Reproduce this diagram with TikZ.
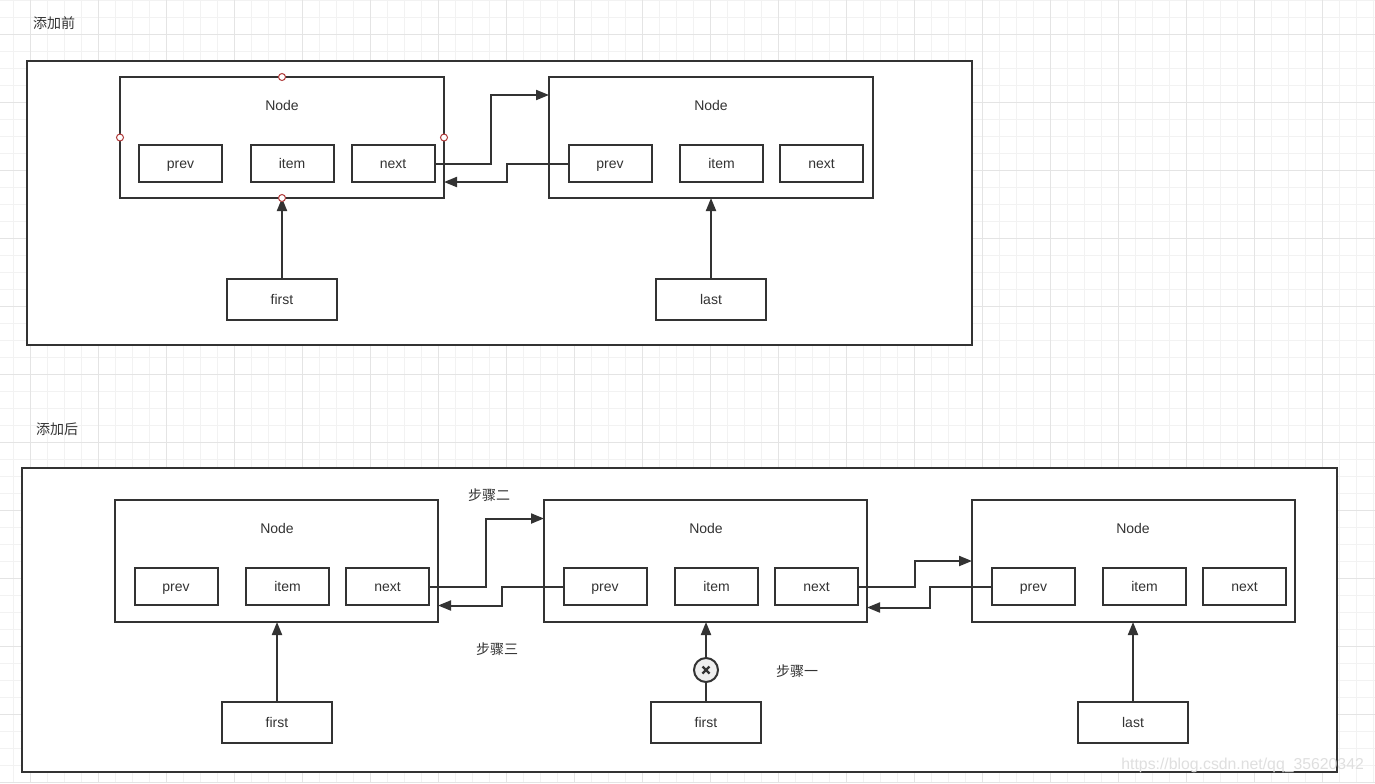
\documentclass[tikz,border=0pt]{standalone}
\usepackage{fontspec}
\setmainfont{Liberation Sans}
\newfontfamily\cjk{Noto Sans CJK SC}
\usetikzlibrary{arrows.meta,calc}
\definecolor{ink}{HTML}{333333}
\definecolor{gridminor}{HTML}{F2F2F2}
\definecolor{gridmajor}{HTML}{E4E4E4}
\definecolor{portred}{HTML}{B03A3A}
\definecolor{xfill}{HTML}{EEEEEE}
\tikzset{
  cont/.style={draw=ink,line width=1pt,fill=white,inner sep=0pt,outer sep=0pt,minimum width=#1},
  nodebox/.style={draw=ink,line width=1pt,fill=white,inner sep=0pt,outer sep=0pt,minimum width=162pt,minimum height=60.5pt},
  txt/.style={font=\fontsize{7pt}{8pt}\selectfont,text=ink,text height=5.2pt,text depth=0.2pt},
  field/.style={txt,draw=ink,line width=1pt,fill=white,inner sep=0pt,outer sep=0pt,minimum width=41.5pt,minimum height=18.5pt},
  ptr/.style={txt,draw=ink,line width=1pt,fill=white,inner sep=0pt,outer sep=0pt,minimum width=55pt,minimum height=20.5pt},
  lbl/.style={txt,inner sep=0pt},
  cjklbl/.style={font=\cjk\fontsize{7pt}{8pt}\selectfont,text=ink,inner sep=0pt},
  arr/.style={draw=ink,line width=1pt,-{Triangle[length=6.5pt,width=5pt]}},
  conn/.style={draw=ink,line width=1pt},
  port/.style={circle,draw=portred,line width=0.5pt,fill=white,inner sep=0pt,minimum size=3.5pt},
  xmark/.style={circle,draw=ink,line width=1pt,fill=xfill,inner sep=0pt,minimum size=12pt}
}
\begin{document}
\begin{tikzpicture}[x=0.5pt,y=-0.5pt]
\useasboundingbox (0,0) rectangle (1375,783);
\fill[white] (0,0) rectangle (1375,783);
\begin{scope}
\clip (0,0) rectangle (1375,783);
\foreach \gx in {13.3,30.3,...,1375} \draw[gridminor,line width=0.5pt] (\gx,0) -- (\gx,783);
\foreach \gy in {0.3,17.3,...,783} \draw[gridminor,line width=0.5pt] (0,\gy) -- (1375,\gy);
\foreach \gx in {30.3,98.3,...,1375} \draw[gridmajor,line width=0.5pt] (\gx,0) -- (\gx,783);
\foreach \gy in {34.3,102.3,...,783} \draw[gridmajor,line width=0.5pt] (0,\gy) -- (1375,\gy);
\end{scope}

% ---------- before ----------
\node[cjklbl] (tbefore) at (54,23) {添加前};
\node[cont=472.5pt,minimum height=142pt] (c1) at (499.5,203) {};

\node[nodebox] (n1) at (282,137.5) {};
\node[lbl] (n1t) at (282,105) {Node};
\node[field] (n1prev) at (180.5,163.5) {prev};
\node[field] (n1item) at (292,163.5) {item};
\node[field] (n1next) at (393,163.5) {next};

\node[nodebox] (n2) at (711,137.5) {};
\node[lbl] (n2t) at (711,105) {Node};
\node[field] (n2prev) at (610,163.5) {prev};
\node[field] (n2item) at (721.5,163.5) {item};
\node[field] (n2next) at (821.5,163.5) {next};

\node[ptr] (first1) at (282,299.5) {first};
\node[ptr] (last1) at (711,299.5) {last};

\coordinate (a1) at (491,95);
\coordinate (b1) at (506.5,182);
\draw[arr] (n1next.east) -| (a1) -- (n2.west |- a1);
\draw[arr] (n2prev.west) -| (b1) -- (n1.east |- b1);
\draw[arr] (first1.north) -- (n1.south);
\draw[arr] (last1.north) -- (n2.south);

\node[port] (p1) at (n1.north) {};
\node[port] (p2) at (n1.west) {};
\node[port] (p3) at (n1.east) {};
\node[port] (p4) at (n1.south) {};

% ---------- after ----------
\node[cjklbl] (tafter) at (57,429) {添加后};
\node[cont=657.5pt,minimum height=152pt] (c2) at (679.5,620) {};

\node[nodebox,minimum width=161.5pt,minimum height=61pt] (na) at (276.5,561) {};
\node[lbl] (nat) at (277,528) {Node};
\node[field] (naprev) at (176,586.5) {prev};
\node[field] (naitem) at (287.5,586.5) {item};
\node[field] (nanext) at (387.5,586.5) {next};

\node[nodebox,minimum width=161.5pt,minimum height=61pt] (nb) at (705.5,561) {};
\node[lbl] (nbt) at (706,528) {Node};
\node[field] (nbprev) at (605,586.5) {prev};
\node[field] (nbitem) at (716.5,586.5) {item};
\node[field] (nbnext) at (816.5,586.5) {next};

\node[nodebox,minimum width=161.5pt,minimum height=61pt] (nc) at (1133.5,561) {};
\node[lbl] (nct) at (1133,528) {Node};
\node[field] (ncprev) at (1033.5,586.5) {prev};
\node[field] (ncitem) at (1144.5,586.5) {item};
\node[field] (ncnext) at (1244.5,586.5) {next};

\node[ptr] (firsta) at (277,722.5) {first};
\node[ptr] (firstb) at (706,722.5) {first};
\node[ptr] (lastc) at (1133,722.5) {last};

\coordinate (a2) at (486,518.5);
\coordinate (b2) at (501.5,605.5);
\coordinate (a3) at (914.5,561);
\coordinate (b3) at (929.5,607.5);
\draw[arr] (nanext.east) -| (a2) -- (nb.west |- a2);
\draw[arr] (nbprev.west) -| (b2) -- (na.east |- b2);
\draw[arr] (nbnext.east) -| (a3) -- (nc.west |- a3);
\draw[arr] (ncprev.west) -| (b3) -- (nb.east |- b3);

\draw[arr] (firsta.north) -- (firsta.north |- na.south);
\draw[arr] (lastc.north) -- (lastc.north |- nc.south);
\node[xmark] (cut) at (706,670) {};
\draw[line width=1.1pt,ink] ($(cut.center)+(-3.5,-3.5)$) -- ($(cut.center)+(3.5,3.5)$);
\draw[line width=1.1pt,ink] ($(cut.center)+(-3.5,3.5)$) -- ($(cut.center)+(3.5,-3.5)$);
\draw[conn] (firstb.north) -- (cut.south);
\draw[arr] (cut.north) -- (cut.north |- nb.south);

\node[cjklbl] (s2) at (489,495) {步骤二};
\node[cjklbl] (s3) at (497,649) {步骤三};
\node[cjklbl] (s1) at (797,671) {步骤一};

\node[font=\fontsize{7.9pt}{9pt}\selectfont,text=gray!25,inner sep=0pt,anchor=west] (wm) at (1121,765) {https://blog.csdn.net/qq\_35620342};
\end{tikzpicture}
\end{document}
